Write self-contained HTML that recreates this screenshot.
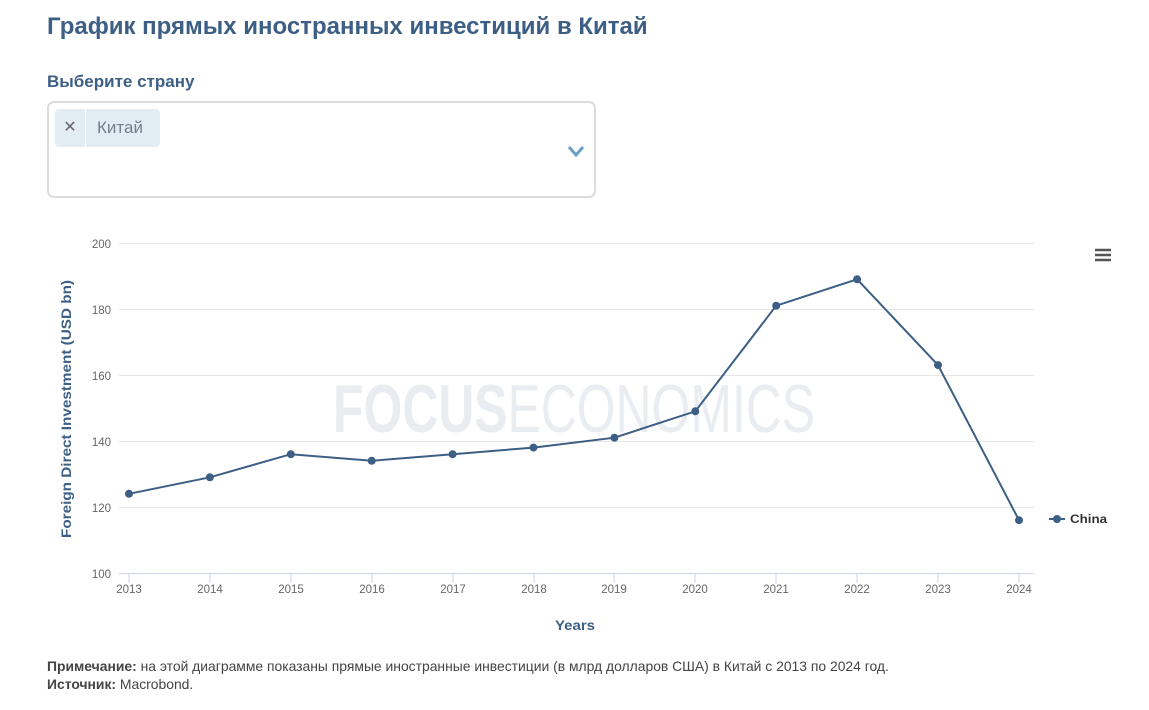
<!DOCTYPE html>
<html><head><meta charset="utf-8"><style>
body{margin:0;width:1149px;height:710px;background:#fff;font-family:"Liberation Sans",sans-serif;position:relative;overflow:hidden}
.t{position:absolute;left:47px;top:13px;font-size:24px;font-weight:bold;color:#3d5f85;white-space:nowrap}
.l{position:absolute;left:47px;top:72px;font-size:17px;font-weight:bold;color:#3d5f85}
.box{position:absolute;left:47px;top:101px;width:549px;height:97px;border:2px solid #dcdcdc;border-radius:7px;box-sizing:border-box}
.tag{position:absolute;left:6px;top:6px;width:105px;height:38px;background:#e1ecf3;border-radius:4px}
.tag .x{position:absolute;left:0;top:0;width:30px;height:38px;border-right:1px solid #fff;text-align:center;line-height:38px;color:#666;font-size:16px}
.tag .n{position:absolute;left:42px;top:0;line-height:38px;color:#74808a;font-size:17px}
.note{position:absolute;left:47px;top:657px;font-size:13.9px;color:#444;line-height:18px;white-space:nowrap}
</style></head><body>
<div class="t">График прямых иностранных инвестиций в Китай</div>
<div class="l">Выберите страну</div>
<div class="box"><div class="tag"><div class="x">✕</div><div class="n">Китай</div></div>
<svg style="position:absolute;left:518px;top:42px" width="20" height="14"><polyline points="2,2 9,10 16,2" fill="none" stroke="#6a9ec2" stroke-width="3"/></svg></div>
<svg style="position:absolute;left:0;top:0" width="1149" height="710">
<g stroke="#e6e6e6" stroke-width="1">
<line x1="119" x2="1034" y1="243.5" y2="243.5"/><line x1="119" x2="1034" y1="309.5" y2="309.5"/><line x1="119" x2="1034" y1="375.5" y2="375.5"/><line x1="119" x2="1034" y1="441.5" y2="441.5"/><line x1="119" x2="1034" y1="507.5" y2="507.5"/>
</g>
<line x1="119" x2="1034" y1="573.5" y2="573.5" stroke="#ccd6eb"/>
<g stroke="#ccd6eb">
<line x1="129" x2="129" y1="574" y2="583"/><line x1="210" x2="210" y1="574" y2="583"/><line x1="291" x2="291" y1="574" y2="583"/><line x1="372" x2="372" y1="574" y2="583"/><line x1="453" x2="453" y1="574" y2="583"/><line x1="534" x2="534" y1="574" y2="583"/><line x1="614" x2="614" y1="574" y2="583"/><line x1="695" x2="695" y1="574" y2="583"/><line x1="776" x2="776" y1="574" y2="583"/><line x1="857" x2="857" y1="574" y2="583"/><line x1="938" x2="938" y1="574" y2="583"/><line x1="1019" x2="1019" y1="574" y2="583"/>
</g>
<text x="574" y="432" text-anchor="middle" font-family="Liberation Sans Narrow,Liberation Sans,sans-serif" font-size="68" fill="#e9edf2" textLength="482" lengthAdjust="spacingAndGlyphs"><tspan font-weight="bold">FOCUS</tspan>ECONOMICS</text>
<g font-size="11.5" fill="#666" text-anchor="end">
<text x="111" y="248">200</text><text x="111" y="314">180</text><text x="111" y="380">160</text><text x="111" y="446">140</text><text x="111" y="512">120</text><text x="111" y="578">100</text>
</g>
<g font-size="11.5" fill="#666" text-anchor="middle">
<text x="129" y="593">2013</text><text x="210" y="593">2014</text><text x="291" y="593">2015</text><text x="372" y="593">2016</text><text x="453" y="593">2017</text><text x="534" y="593">2018</text><text x="614" y="593">2019</text><text x="695" y="593">2020</text><text x="776" y="593">2021</text><text x="857" y="593">2022</text><text x="938" y="593">2023</text><text x="1019" y="593">2024</text>
</g>
<text x="575" y="630" text-anchor="middle" font-size="13.5" font-weight="bold" fill="#3d5f85" textLength="40" lengthAdjust="spacingAndGlyphs">Years</text>
<text transform="translate(71,409) rotate(-90)" text-anchor="middle" font-size="13.5" font-weight="bold" fill="#3d5f85" textLength="258" lengthAdjust="spacingAndGlyphs">Foreign Direct Investment (USD bn)</text>
<polyline fill="none" stroke="#3d5f85" stroke-width="2" points="129,493.8 209.9,477.3 290.8,454.2 371.7,460.8 452.6,454.2 533.5,447.6 614.4,437.7 695.3,411.3 776.2,305.7 857.1,279.3 938,365.1 1019,520.2"/>
<g fill="#3d5f85">
<circle cx="129" cy="493.8" r="4"/><circle cx="209.9" cy="477.3" r="4"/><circle cx="290.8" cy="454.2" r="4"/><circle cx="371.7" cy="460.8" r="4"/><circle cx="452.6" cy="454.2" r="4"/><circle cx="533.5" cy="447.6" r="4"/><circle cx="614.4" cy="437.7" r="4"/><circle cx="695.3" cy="411.3" r="4"/><circle cx="776.2" cy="305.7" r="4"/><circle cx="857.1" cy="279.3" r="4"/><circle cx="938" cy="365.1" r="4"/><circle cx="1019" cy="520.2" r="4"/>
</g>
<line x1="1049" x2="1065" y1="519" y2="519" stroke="#3d5f85" stroke-width="2"/><circle cx="1057" cy="519" r="4" fill="#3d5f85"/>
<text x="1070" y="523" font-size="12" font-weight="bold" fill="#333" textLength="37" lengthAdjust="spacingAndGlyphs">China</text>
<g stroke="#555" stroke-width="2.5"><line x1="1095" x2="1111" y1="250" y2="250"/><line x1="1095" x2="1111" y1="255" y2="255"/><line x1="1095" x2="1111" y1="260" y2="260"/></g>
</svg>
<div class="note"><b>Примечание:</b> на этой диаграмме показаны прямые иностранные инвестиции (в млрд долларов США) в Китай с 2013 по 2024 год.<br><b>Источник:</b> Macrobond.</div>
</body></html>
